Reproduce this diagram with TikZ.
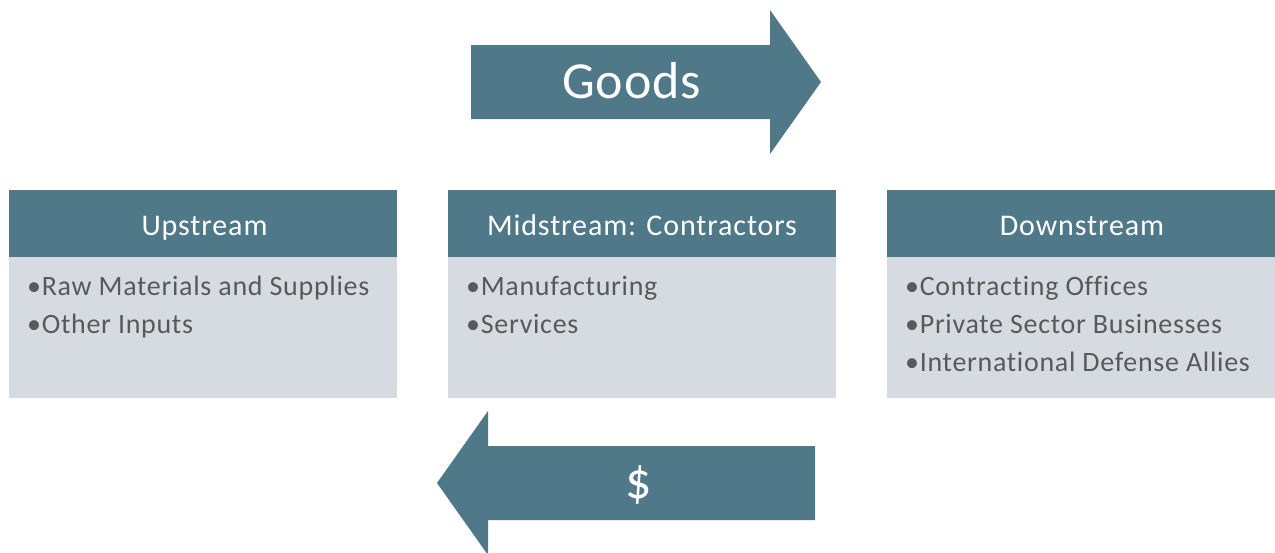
\documentclass[tikz,border=0pt]{standalone}
\usepackage{fontspec}
\setmainfont{Carlito}[Ligatures=NoCommon]
\definecolor{teal}{HTML}{4F7888}
\definecolor{pale}{HTML}{D5DBE0}
\definecolor{ink}{HTML}{595959}
\tikzset{
  hdr/.style={fill=teal, draw=none, minimum width=388pt, minimum height=67pt, anchor=north west, inner sep=0pt},
  bodybox/.style={fill=pale, draw=none, minimum width=388pt, minimum height=141pt, anchor=north west, inner sep=0pt},
  hdrtext/.style={text=white, font=\addfontfeatures{LetterSpace=3}\fontsize{30}{34}\selectfont, anchor=base, inner sep=0pt},
  itemtext/.style={text=ink, font=\addfontfeatures{LetterSpace=2.5}\fontsize{28}{32}\selectfont, anchor=base west, inner sep=0pt},
  arrowshape/.style={fill=teal, draw=none},
  arrowtext/.style={text=white, font=\addfontfeatures{LetterSpace=1.5}\fontsize{52}{58}\selectfont, anchor=base, inner sep=0pt}
}
\begin{document}
\begin{tikzpicture}[x=1pt,y=-1pt]
\useasboundingbox (0,0) rectangle (1275,552);
% Goods arrow
\path[arrowshape] (471,45) -- (770,45) -- (770,10) -- (821,82) -- (770,154) -- (770,119) -- (471,119) -- cycle;
\node[arrowtext] (goods) at (631.5,98) {Goods};
% $ arrow
\path[arrowshape] (815,446) -- (488,446) -- (488,411) -- (437,483) -- (488,555) -- (488,520) -- (815,520) -- cycle;
\node[arrowtext] (money) at (639,498) {\$};
% boxes
\node[hdr] (uh) at (9,190) {};
\node[bodybox] (ub) at (9,257) {};
\node[hdr] (mh) at (448,190) {};
\node[bodybox] (mb) at (448,257) {};
\node[hdr] (dh) at (887,190) {};
\node[bodybox] (db) at (887,257) {};
% headers
\node[hdrtext] (ut) at (204.5,235) {Upstream};
\node[hdrtext] (mt) at (642,235) {Midstream: Contractors};
\node[hdrtext] (dt) at (1082,235) {Downstream};
% items
\node[itemtext] (u1) at (27,295) {•Raw Materials and Supplies};
\node[itemtext] (u2) at (27,333) {•Other Inputs};
\node[itemtext] (m1) at (466,295) {•Manufacturing};
\node[itemtext] (m2) at (466,333) {•Services};
\node[itemtext] (d1) at (905,295) {•Contracting Offices};
\node[itemtext] (d2) at (905,333) {•Private Sector Businesses};
\node[itemtext] (d3) at (905,371) {•International Defense Allies};
\end{tikzpicture}
\end{document}
